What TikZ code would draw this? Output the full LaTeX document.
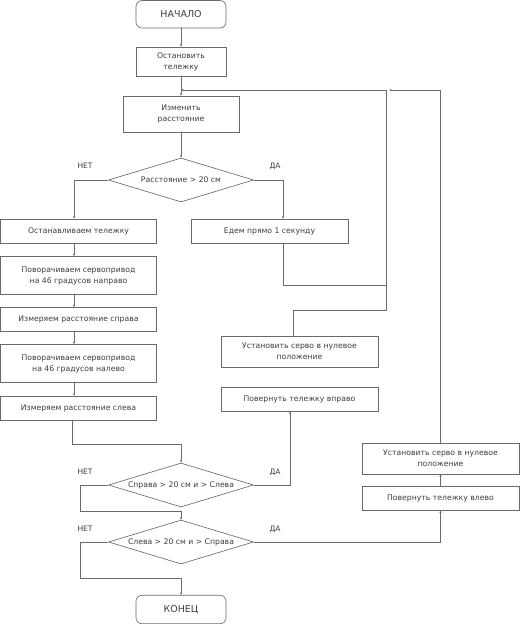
\documentclass[tikz,border=0pt]{standalone}
\usepackage{fontspec}
\setmainfont{DejaVu Sans}
\usetikzlibrary{shapes.geometric,arrows.meta,calc}
\definecolor{lc}{HTML}{6A6A6A}
\definecolor{tc}{HTML}{3C3C3C}
\begin{document}
\begin{tikzpicture}[x=1pt,y=-1pt,
  every node/.style={text=tc},
  box/.style={draw=lc,line width=0.65pt,rectangle,inner sep=0pt,align=center,
    font=\fontsize{7.7}{11}\selectfont},
  term/.style={box,rounded corners=6pt,font=\fontsize{9.5}{11}\selectfont},
  dia/.style={draw=lc,line width=0.65pt,diamond,inner sep=0pt,
    minimum width=145pt,minimum height=44pt,font=\fontsize{7.7}{11}\selectfont},
  lbl/.style={font=\fontsize{7.5}{9}\selectfont,inner sep=0pt},
  conn/.style={draw=lc,line width=0.65pt},
  arr/.style={conn,-{Stealth[length=2.5pt,width=2.2pt]}}]
\useasboundingbox (0,0) rectangle (520,624);
% nodes
\node[term,minimum width=90pt,minimum height=27.5pt] (start) at (181,14.3) {НАЧАЛО};
\node[box,minimum width=90pt,minimum height=29pt] (stop1) at (181,61.5) {Остановить\\тележку};
\node[box,minimum width=116pt,minimum height=36pt] (izm) at (181,114) {Изменить\\расстояние};
\node[dia] (d1) at (181,180) {\makebox[0pt]{Расстояние > 20 см}};
\node[box,minimum width=156pt,minimum height=24pt] (L1) at (78.5,231) {Останавливаем тележку};
\node[box,minimum width=157pt,minimum height=24pt] (R1) at (269.5,231) {Едем прямо 1 секунду};
\node[box,minimum width=156pt,minimum height=38pt] (L2) at (78.5,275.5) {Поворачиваем сервопривод\\на 46 градусов направо};
\node[box,minimum width=156pt,minimum height=24pt] (L3) at (78.5,319.5) {Измеряем расстояние справа};
\node[box,minimum width=156pt,minimum height=38pt] (L4) at (78.5,363.5) {Поворачиваем сервопривод\\на 46 градусов налево};
\node[box,minimum width=156pt,minimum height=24pt] (L5) at (78.5,408) {Измеряем расстояние слева};
\node[box,minimum width=157pt,minimum height=31pt] (M1) at (299.5,351.5) {Установить серво в нулевое\\положение};
\node[box,minimum width=157pt,minimum height=24pt] (M2) at (299.5,399) {Повернуть тележку вправо};
\node[dia] (d2) at (181,485) {\makebox[0pt]{Справа > 20 см и > Слева}};
\node[dia] (d3) at (181,542) {\makebox[0pt]{Слева > 20 см и > Справа}};
\node[box,minimum width=157pt,minimum height=31pt] (R2) at (440.5,458.5) {Установить серво в нулевое\\положение};
\node[box,minimum width=157pt,minimum height=24pt] (R3) at (440.5,498) {Повернуть тележку влево};
\node[term,minimum width=90pt,minimum height=28.5pt] (end) at (181,609.5) {КОНЕЦ};
% labels
\node[lbl] (n1) at (85,166) {НЕТ};
\node[lbl] (y1) at (275,166) {ДА};
\node[lbl] (n2) at (85,472) {НЕТ};
\node[lbl] (y2) at (275,472) {ДА};
\node[lbl] (n3) at (85,529) {НЕТ};
\node[lbl] (y3) at (275,529) {ДА};
% junction coordinates
\coordinate (j1) at (181,90);
\coordinate (j2) at (389,90);
\coordinate (v1) at (386,90);
\coordinate (m1) at (181,511);
\coordinate (m2) at (181,578);
% connectors
\draw[arr] (start) -- (stop1);
\draw[arr] (stop1) -- (izm);
\draw[arr] (izm.south) -- (d1.north);
\draw[arr] (d1.west) -| ([xshift=-4.5pt]L1.north);
\draw[arr] (d1.east) -| ([xshift=13.5pt]R1.north);
\draw[arr] ([xshift=-4.5pt]L1.south) -- ([xshift=-4.5pt]L2.north);
\draw[arr] ([xshift=-4.5pt]L2.south) -- ([xshift=-4.5pt]L3.north);
\draw[arr] ([xshift=-4.5pt]L3.south) -- ([xshift=-4.5pt]L4.north);
\draw[arr] ([xshift=-4.5pt]L4.south) -- ([xshift=-4.5pt]L5.north);
\draw[arr] ([xshift=-6.5pt]L5.south) -- ++(0,24) -| (d2.north);
\draw[arr] (d2.west) -- ++(-28,0) |- (m1) -- (d3.north);
\draw[arr] (d3.west) -- ++(-28,0) |- (m2) -- (end.north);
\draw[arr] (d2.east) -| ([xshift=-9.5pt]M2.south);
\draw[arr] ([xshift=-6.5pt]M1.north) |- (386,310) -- (v1) -- (j1);
\draw[conn] ([xshift=13.5pt]R1.south) |- (386,285);
\draw[arr] (d3.east) -| (R3.south);
\draw[arr] (R3.north) -- (R2.south);
\draw[arr] (R2.north) |- (j2);
\end{tikzpicture}
\end{document}
